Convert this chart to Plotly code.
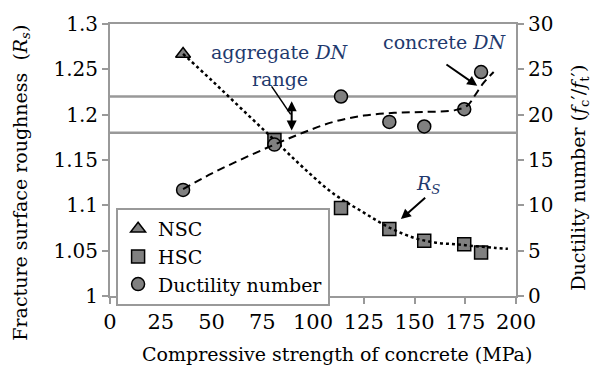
import plotly.graph_objects as go

# Compressive strength (MPa) of the tested concretes
nsc_strength = [36]
nsc_rs = [1.267]

hsc_strength = [81, 113.8, 137.6, 154.8, 174.5, 182.8]
hsc_rs = [1.172, 1.097, 1.074, 1.061, 1.057, 1.048]

dn_strength = [36, 81, 113.8, 137.6, 154.8, 174.5, 182.8]
dn_values = [11.7, 16.7, 22.0, 19.2, 18.7, 20.6, 24.7]

# Fitted trend of surface roughness
rs_trend_x = [36, 50, 65, 81, 95, 110, 125, 138, 150, 160, 170, 180, 190, 196]
rs_trend_y = [1.267, 1.238, 1.206, 1.172, 1.142, 1.113, 1.092, 1.075, 1.064,
              1.059, 1.057, 1.055, 1.053, 1.052]

# Fitted trend of ductility number
dn_trend_x = [36, 50, 65, 81, 95, 110, 125, 140, 155, 170, 176, 180, 184, 189]
dn_trend_y = [11.8, 13.5, 15.1, 16.7, 18.0, 19.2, 19.9, 20.2, 20.3, 20.5,
              21.0, 22.2, 23.5, 24.7]

# Aggregate ductility-number band
agg_dn_band = [18, 22]

x_ticks = [0, 25, 50, 75, 100, 125, 150, 175, 200]
y_ticks = [1.0, 1.05, 1.1, 1.15, 1.2, 1.25, 1.3]
y_tick_text = ["1", "1.05", "1.1", "1.15", "1.2", "1.25", "1.3"]
y2_ticks = [0, 5, 10, 15, 20, 25, 30]

FONT = "DejaVu Serif"
GREY = "#999999"
MARK = "#808080"
NAVY = "#1f3a6e"

fig = go.Figure()

marker_line = dict(color="black", width=1.5)

fig.add_trace(go.Scatter(
    x=nsc_strength, y=nsc_rs, mode="markers", name="NSC",
    marker=dict(symbol="triangle-up", size=13, color=MARK, line=marker_line),
))
fig.add_trace(go.Scatter(
    x=hsc_strength, y=hsc_rs, mode="markers", name="HSC",
    marker=dict(symbol="square", size=13, color=MARK, line=marker_line),
))
fig.add_trace(go.Scatter(
    x=rs_trend_x, y=rs_trend_y, mode="lines", showlegend=False,
    line=dict(color="black", width=2.5, dash="dot", shape="spline"),
))
fig.add_trace(go.Scatter(
    x=dn_strength, y=dn_values, mode="markers", name="Ductility number",
    yaxis="y2",
    marker=dict(symbol="circle", size=13, color=MARK, line=marker_line),
))
fig.add_trace(go.Scatter(
    x=dn_trend_x, y=dn_trend_y, mode="lines", showlegend=False, yaxis="y2",
    line=dict(color="black", width=2, dash="8px,5px", shape="spline"),
))

# Horizontal band lines for the aggregate DN range
shapes = []
for v in agg_dn_band:
    shapes.append(dict(type="line", xref="paper", x0=0, x1=1, yref="y2",
                       y0=v, y1=v, line=dict(color=GREY, width=2.5),
                       layer="below"))
# Leader from the "range" label to the double arrow
shapes.append(dict(type="line", xref="x", yref="y", x0=79.6, y0=1.2312,
                   x1=89.0, y1=1.2003, line=dict(color="black", width=1.5)))

label_font = dict(family=FONT, size=19, color=NAVY)
title_font = dict(family=FONT, size=19, color="black")

annotations = [
    dict(x=83.7, y=1.2696, xref="x", yref="y", text="aggregate <i>DN</i>",
         showarrow=False, font=label_font, xanchor="center", yanchor="middle"),
    dict(x=83.7, y=1.239, xref="x", yref="y", text="range",
         showarrow=False, font=label_font, xanchor="center", yanchor="middle"),
    dict(x=165, y=1.2804, xref="x", yref="y", text="concrete <i>DN</i>",
         showarrow=False, font=label_font, xanchor="center", yanchor="middle"),
    dict(x=156.7, y=1.1228, xref="x", yref="y", text="<i>R</i><sub><i>S</i></sub>",
         showarrow=False, font=label_font, xanchor="center", yanchor="middle"),
    # arrows
    dict(x=89.5, y=1.1825, ax=89.5, ay=1.2165, xref="x", yref="y",
         axref="x", ayref="y", text="", showarrow=True, arrowhead=2,
         startarrowhead=2, arrowside="end+start", arrowsize=1, arrowwidth=2,
         startarrowsize=1, arrowcolor="black", standoff=0, startstandoff=0),
    dict(x=180.9, y=1.2318, ax=165, ay=1.2565, xref="x", yref="y",
         axref="x", ayref="y", text="", showarrow=True, arrowhead=2,
         arrowsize=1, arrowwidth=2, arrowcolor="black", standoff=0),
    dict(x=143.3, y=1.0848, ax=156, ay=1.1098, xref="x", yref="y",
         axref="x", ayref="y", text="", showarrow=True, arrowhead=2,
         arrowsize=1, arrowwidth=2, arrowcolor="black", standoff=0),
    # axis titles
    dict(x=0.559, y=-0.214, xref="paper", yref="paper",
         xanchor="center", yanchor="middle",
         text="Compressive strength of concrete (MPa)", showarrow=False,
         font=title_font),
    dict(x=-0.219, y=0.417, xref="paper", yref="paper", textangle=-90,
         xanchor="center", yanchor="middle",
         text="Fracture surface roughness  (<i>R</i><sub><i>s</i></sub>)",
         showarrow=False, font=title_font),
    dict(x=1.158, y=0.435, xref="paper", yref="paper", textangle=-90,
         xanchor="center", yanchor="middle",
         text="Ductility number (<i>f</i><sub>c</sub>′/<i>f</i><sub>t</sub>′)",
         showarrow=False, font=title_font),
]

axis_common = dict(
    showgrid=False, zeroline=False, showline=True, linecolor=GREY,
    linewidth=2, ticks="outside", ticklen=6, tickwidth=2, tickcolor=GREY,
)

fig.update_layout(
    width=592, height=374,
    margin=dict(l=110, r=76, t=20, b=78),
    paper_bgcolor="white", plot_bgcolor="white",
    font=dict(family=FONT, size=19, color="black"),
    showlegend=True,
    legend=dict(x=0.015, y=0.324, xanchor="left", yanchor="top",
                bordercolor=GREY, borderwidth=2, bgcolor="white",
                font=dict(family=FONT, size=19), tracegroupgap=0,
                itemwidth=30),
    xaxis=dict(range=[0, 200], tickvals=x_ticks, mirror=True,
               tickfont=dict(family=FONT, size=21), **axis_common),
    yaxis=dict(range=[1.0, 1.3], tickvals=y_ticks, ticktext=y_tick_text,
               tickfont=dict(family=FONT, size=20), **axis_common),
    yaxis2=dict(range=[0, 30], tickvals=y2_ticks, overlaying="y",
                side="right", tickfont=dict(family=FONT, size=20),
                **axis_common),
    shapes=shapes,
    annotations=annotations,
)

fig.write_html("out.html")
